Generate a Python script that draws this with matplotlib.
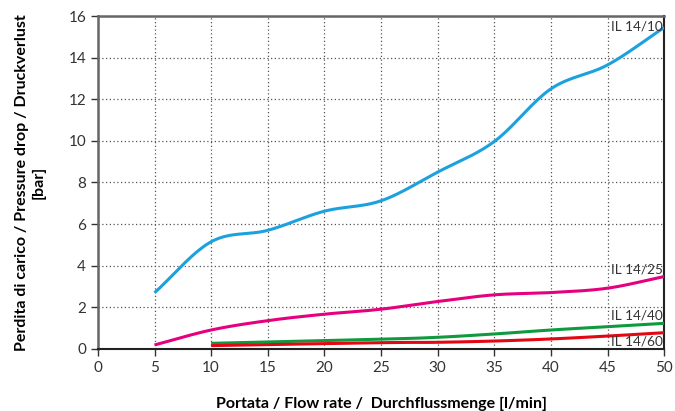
import numpy as np
import matplotlib
matplotlib.use("Agg")
import matplotlib.pyplot as plt

plt.rcParams['font.family'] = ['Lato', 'DejaVu Sans']

x_1410 = [5, 10, 15, 20, 25, 30, 35, 40, 45, 50]
y_1410 = [2.7, 5.15, 5.7, 6.62, 7.12, 8.5, 9.97, 12.5, 13.65, 15.45]
x_1425 = [5, 10, 15, 20, 25, 30, 35, 40, 45, 50]
y_1425 = [0.19, 0.91, 1.36, 1.67, 1.91, 2.28, 2.6, 2.71, 2.92, 3.48]
x_1440 = [10, 25, 30, 35, 40, 45, 50]
y_1440 = [0.27, 0.47, 0.56, 0.72, 0.91, 1.07, 1.23]
x_1460 = [10, 25, 30, 35, 40, 45, 50]
y_1460 = [0.16, 0.30, 0.32, 0.38, 0.48, 0.62, 0.78]

names = ["IL 14/10", "IL 14/25", "IL 14/40", "IL 14/60"]
colors = ["#1ba1de", "#e6007e", "#0f9a3f", "#e30613"]
label_y = [15.5, 3.8, 1.63, 0.38]
xticks = [0, 5, 10, 15, 20, 25, 30, 35, 40, 45, 50]
yticks = [0, 2, 4, 6, 8, 10, 12, 14, 16]


def smooth(xs, ys, n=20):
    xs = np.asarray(xs, float); ys = np.asarray(ys, float)
    px = np.concatenate([[2*xs[0]-xs[1]], xs, [2*xs[-1]-xs[-2]]])
    py = np.concatenate([[2*ys[0]-ys[1]], ys, [2*ys[-1]-ys[-2]]])
    ox, oy = [], []
    t = np.linspace(0, 1, n, endpoint=False)
    for i in range(1, len(px)-2):
        for arr, out in ((px, ox), (py, oy)):
            p0, p1, p2, p3 = arr[i-1], arr[i], arr[i+1], arr[i+2]
            out.extend(0.5*((2*p1) + (-p0+p2)*t + (2*p0-5*p1+4*p2-p3)*t**2 + (-p0+3*p1-3*p2+p3)*t**3))
    ox.append(xs[-1]); oy.append(ys[-1])
    return np.array(ox), np.array(oy)


fig = plt.figure(figsize=(6.75, 4.11), dpi=100)
ax = fig.add_axes([0.145, 0.151, 0.839, 0.810])

series = [(x_1410, y_1410), (x_1425, y_1425), (x_1440, y_1440), (x_1460, y_1460)]
for (xs, ys), c, nm, ly in zip(series, colors, names, label_y):
    sx, sy = smooth(xs, ys)
    ax.plot(sx, sy, color=c, lw=2.2, solid_capstyle='butt', zorder=3)
    ax.text(49.85, ly, nm, ha='right', va='center', fontsize=9.8, color='#333333', zorder=4)

ax.set_xlim(0, 50)
ax.set_ylim(0, 16)
ax.set_xticks(xticks)
ax.set_yticks(yticks)
ax.tick_params(labelsize=11, length=5, width=1, colors='#333333', direction='out')
ax.grid(True, linestyle=(0, (1, 2)), color='#555555', lw=0.9)
for s in ['left', 'top']:
    ax.spines[s].set_color('#666666')
    ax.spines[s].set_linewidth(1.8)
for s in ['right', 'bottom']:
    ax.spines[s].set_color('#222222')
    ax.spines[s].set_linewidth(1.5)

ax.set_xlabel("Portata / Flow rate /  Durchflussmenge [l/min]", fontsize=11.5, fontweight='bold', labelpad=16)
ax.set_ylabel("Perdita di carico / Pressure drop / Druckverlust\n[bar]", fontsize=11.5, fontweight='bold', labelpad=16, linespacing=1.3)

fig.savefig("out.png", dpi=100)
